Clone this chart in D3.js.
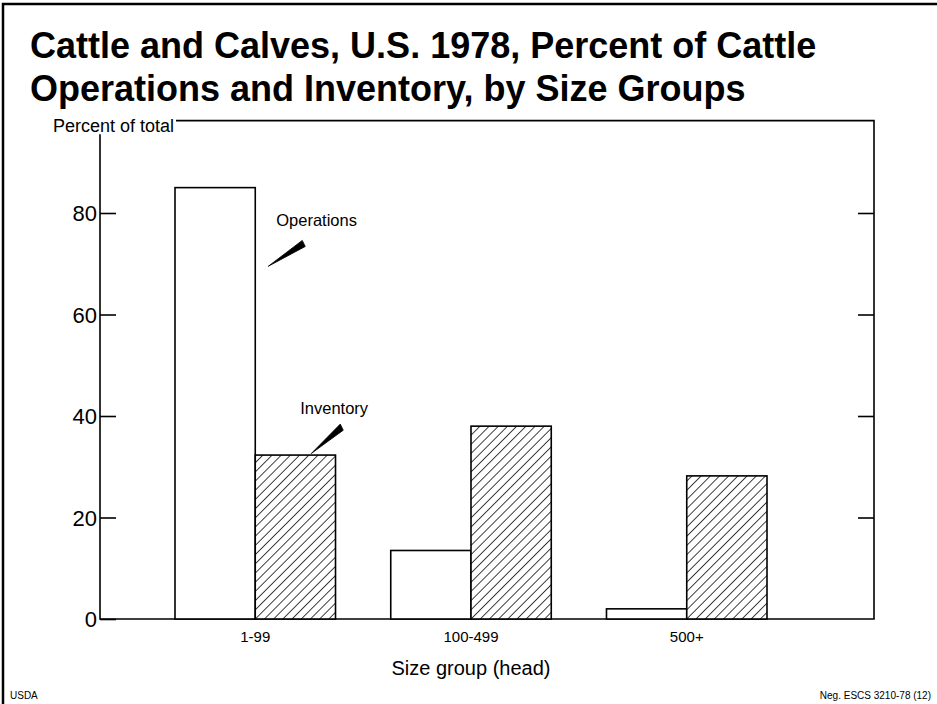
<!DOCTYPE html>
<html lang="en">
  <head>
    <meta charset="utf-8">
    <title>Cattle and Calves 1978</title>
    <script src="https://d3js.org/d3.v7.min.js"></script>
    <style>
      body { margin: 0; background: white; }
      text { font-family: "Liberation Sans", Arial, sans-serif; fill: black; }
    </style>
  </head>
  <body>
    <script type="text/javascript">

      var w = 937;
      var h = 704;

      // data
      var groups = ["1-99", "100-499", "500+"];
      var series = ["Operations", "Inventory"];
      var operations = [85, 13.5, 2];
      var inventory = [32.3, 38, 28.2];
      var yTicks = [0, 20, 40, 60, 80];

      var rows = groups.map(function(g, i) {
        return {group: g, values: [
          {key: "Operations", value: operations[i]},
          {key: "Inventory", value: inventory[i]}
        ]};
      });

      var svg = d3.select("body")
          .append("svg")
          .attr("width", w)
          .attr("height", h);

      svg.append("rect")
          .attr("width", w)
          .attr("height", h)
          .attr("fill", "white");

      var defs = svg.append("defs");
      var pat = defs.append("pattern")
          .attr("id", "hatch")
          .attr("patternUnits", "userSpaceOnUse")
          .attr("width", 6.5)
          .attr("height", 6.5)
          .attr("patternTransform", "rotate(45)");
      pat.append("rect").attr("width", 6.5).attr("height", 6.5).attr("fill", "white");
      pat.append("line")
          .attr("x1", 0).attr("y1", 0)
          .attr("x2", 0).attr("y2", 6.5)
          .attr("stroke", "black")
          .attr("stroke-width", 1.5);

      // outer border
      svg.append("path")
          .attr("d", "M3,704 L3,4 L937,4")
          .attr("fill", "none")
          .attr("stroke", "black")
          .attr("stroke-width", 2.5);

      // title
      var title = svg.append("text")
          .style("font-size", "36px")
          .style("font-weight", "bold");
      title.append("tspan").attr("x", 30).attr("y", 58)
          .text("Cattle and Calves, U.S. 1978, Percent of Cattle");
      title.append("tspan").attr("x", 30).attr("y", 101)
          .text("Operations and Inventory, by Size Groups");

      var yScale = d3.scaleLinear()
          .domain([0, 80])
          .range([619, 213]);

      var xScale = d3.scaleBand()
          .domain(groups)
          .range([175, 767])
          .paddingInner(0.256);

      var xInner = d3.scaleBand()
          .domain(series)
          .range([0, xScale.bandwidth()]);

      var left = 100, right = 874;

      // frame
      svg.append("path")
          .attr("d", "M" + left + "," + yScale(95.5) + " L" + left + "," + yScale(0) +
                " L" + right + "," + yScale(0) + " L" + right + "," + yScale(98.2) +
                " L176," + yScale(98.2))
          .attr("fill", "none")
          .attr("stroke", "black")
          .attr("stroke-width", 1.6);

      svg.append("text")
          .attr("x", 53)
          .attr("y", 132)
          .style("font-size", "18px")
          .text("Percent of total");

      var yAxis = d3.axisLeft(yScale)
          .tickValues(yTicks)
          .tickSize(-16)
          .tickPadding(3);

      var gy = svg.append("g")
          .attr("transform", "translate(" + left + ",0)")
          .call(yAxis);
      gy.select(".domain").remove();
      gy.selectAll("line").attr("stroke-width", 1.6);
      gy.selectAll("text")
          .style("font-size", "22px")
          .attr("dy", "0.36em");

      var yAxisR = d3.axisRight(yScale)
          .tickValues(yTicks.slice(1))
          .tickSize(-16)
          .tickFormat("");
      var gr = svg.append("g")
          .attr("transform", "translate(" + right + ",0)")
          .call(yAxisR);
      gr.select(".domain").remove();
      gr.selectAll("line").attr("stroke-width", 1.6);

      // bars
      var grp = svg.append("g")
          .selectAll("g")
          .data(rows)
          .enter().append("g")
          .attr("transform", function(d) { return "translate(" + xScale(d.group) + ",0)"; });

      grp.selectAll("rect")
          .data(function(d) { return d.values; })
          .enter().append("rect")
          .attr("x", function(d) { return xInner(d.key); })
          .attr("y", function(d) { return yScale(d.value); })
          .attr("width", xInner.bandwidth())
          .attr("height", function(d) { return yScale(0) - yScale(d.value); })
          .attr("fill", function(d) { return d.key == "Inventory" ? "url(#hatch)" : "white"; })
          .attr("stroke", "black")
          .attr("stroke-width", 1.6);

      var xAxis = d3.axisBottom(xScale)
          .tickSize(0)
          .tickPadding(12);
      var gx = svg.append("g")
          .attr("transform", "translate(0," + yScale(0) + ")")
          .call(xAxis);
      gx.select(".domain").remove();
      gx.selectAll("text").style("font-size", "15px");

      svg.append("text")
          .attr("x", xScale("100-499") + xScale.bandwidth() / 2)
          .attr("y", 675)
          .attr("text-anchor", "middle")
          .style("font-size", "20px")
          .text("Size group (head)");

      // series labels with wedge leaders
      var op0 = xScale(groups[0]) + xInner.bandwidth();
      svg.append("text")
          .attr("x", op0 + 21)
          .attr("y", yScale(77.5))
          .style("font-size", "16.5px")
          .text("Operations");
      svg.append("path")
          .attr("d", "M" + (op0 + 13) + "," + yScale(69.5) +
                " L" + (op0 + 47) + "," + yScale(74.6) +
                " L" + (op0 + 50) + "," + yScale(73.4) + " Z")
          .attr("fill", "black")
          .attr("stroke", "black")
          .attr("stroke-width", 0.8);

      svg.append("text")
          .attr("x", op0 + 45)
          .attr("y", yScale(40.3))
          .style("font-size", "16.5px")
          .text("Inventory");
      svg.append("path")
          .attr("d", "M" + (op0 + 56) + "," + yScale(32.6) +
                " L" + (op0 + 85) + "," + yScale(38.4) +
                " L" + (op0 + 88) + "," + yScale(37.2) + " Z")
          .attr("fill", "black")
          .attr("stroke", "black")
          .attr("stroke-width", 0.8);

      // credits
      svg.append("text")
          .attr("x", 10)
          .attr("y", 699)
          .style("font-size", "10px")
          .text("USDA");
      svg.append("text")
          .attr("x", 931)
          .attr("y", 699)
          .attr("text-anchor", "end")
          .style("font-size", "10px")
          .text("Neg. ESCS 3210-78 (12)");

    </script>
  </body>
</html>
